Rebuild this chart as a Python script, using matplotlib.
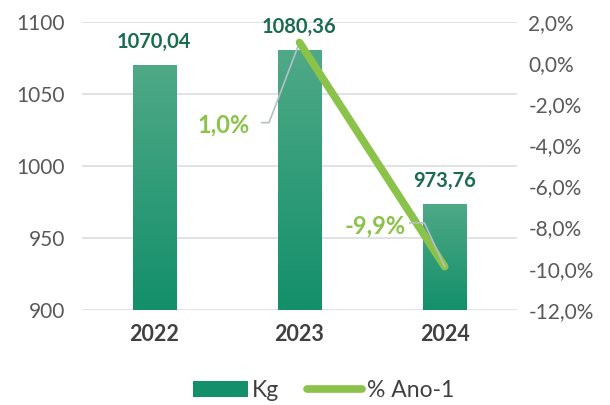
import matplotlib
matplotlib.use("Agg")
import matplotlib.pyplot as plt
import numpy as np
from matplotlib.colors import LinearSegmentedColormap
from matplotlib.patches import Patch
from matplotlib.lines import Line2D

plt.rcParams['font.family'] = ['Lato', 'DejaVu Sans']

years = ["2022", "2023", "2024"]
kg = [1070.04, 1080.36, 973.76]
kg_labels = ["1070,04", "1080,36", "973,76"]
pct_years_idx = [1, 2]
pct = [1.0, -9.9]
pct_labels = ["1,0%", "-9,9%"]
left_ticks = [900, 950, 1000, 1050, 1100]
right_ticks = [2, 0, -2, -4, -6, -8, -10, -12]

bar_dark = "#138F6A"
bar_light = "#4FA987"
label_green = "#1B6B4E"
line_green = "#8BC34A"
tick_gray = "#595959"

fig = plt.figure(figsize=(6.1, 4.05), dpi=100)
ax = fig.add_axes([0.134, 0.235, 0.714, 0.711])
ax2 = ax.twinx()

x = np.arange(len(years))
width = 0.30
cmap = LinearSegmentedColormap.from_list("g", [bar_dark, bar_light])
grad = np.linspace(0, 1, 256).reshape(-1, 1)
bars = ax.bar(x, kg, width=width, color="none", zorder=2)
for b in bars:
    x0, y0 = b.get_x(), 900
    im = ax.imshow(grad, cmap=cmap, origin="lower", aspect="auto",
                   extent=[x0, x0 + b.get_width(), y0, b.get_height()], zorder=2)
    im.set_clip_path(b)

ax.set_xlim(-0.5, 2.5)
ax.set_ylim(900, 1100)
ax.set_yticks(left_ticks)
ax.set_xticks(x)
ax.set_xticklabels(years, fontsize=15.5, fontweight="bold", color="#404040")
ax.tick_params(axis="y", labelsize=15, colors=tick_gray, length=0, pad=12)
ax.tick_params(axis="x", length=0, pad=10)
ax.grid(axis="y", color="#DADDE3", linewidth=1.2, zorder=0)
ax.set_axisbelow(True)
for s in ax.spines.values():
    s.set_visible(False)
for s in ax2.spines.values():
    s.set_visible(False)

for xi, v, lab in zip(x, kg, kg_labels):
    ax.text(xi, v + 9, lab, ha="center", va="bottom", fontsize=14.5,
            fontweight="bold", color=label_green, zorder=5)

ax2.set_ylim(-12, 2)
ax2.set_yticks(right_ticks)
ax2.set_yticklabels([f"{t:.1f}%".replace(".", ",") for t in right_ticks])
ax2.tick_params(axis="y", labelsize=15, colors=tick_gray, length=0, pad=8)
ax2.plot(pct_years_idx, pct, color=line_green, linewidth=5.5,
         solid_capstyle="round", zorder=4)

# leader lines and labels
ax2.plot([0.74, 0.79, pct_years_idx[0]], [-2.9, -2.9, pct[0]],
         color="#B8BEC8", linewidth=1.2, zorder=3)
ax2.text(0.66, -3.0, pct_labels[0], ha="right", va="center", fontsize=17,
         fontweight="bold", color=line_green)
ax2.plot([1.76, 1.86, pct_years_idx[1]], [-7.77, -7.77, pct[1]],
         color="#B8BEC8", linewidth=1.2, zorder=5)
ax2.text(1.73, -7.9, pct_labels[1], ha="right", va="center", fontsize=17,
         fontweight="bold", color=line_green)

handles = [Patch(facecolor=bar_dark, edgecolor="none"),
           Line2D([0], [0], color=line_green, linewidth=5.5, solid_capstyle="round")]
fig.legend(handles, ["Kg", "% Ano-1"], loc="center", bbox_to_anchor=(0.53, 0.035),
           ncol=2, frameon=False, fontsize=16.5, labelcolor="#404040",
           handlelength=2.4, columnspacing=1.2, handletextpad=0.2)

fig.savefig("out.png", dpi=100)
